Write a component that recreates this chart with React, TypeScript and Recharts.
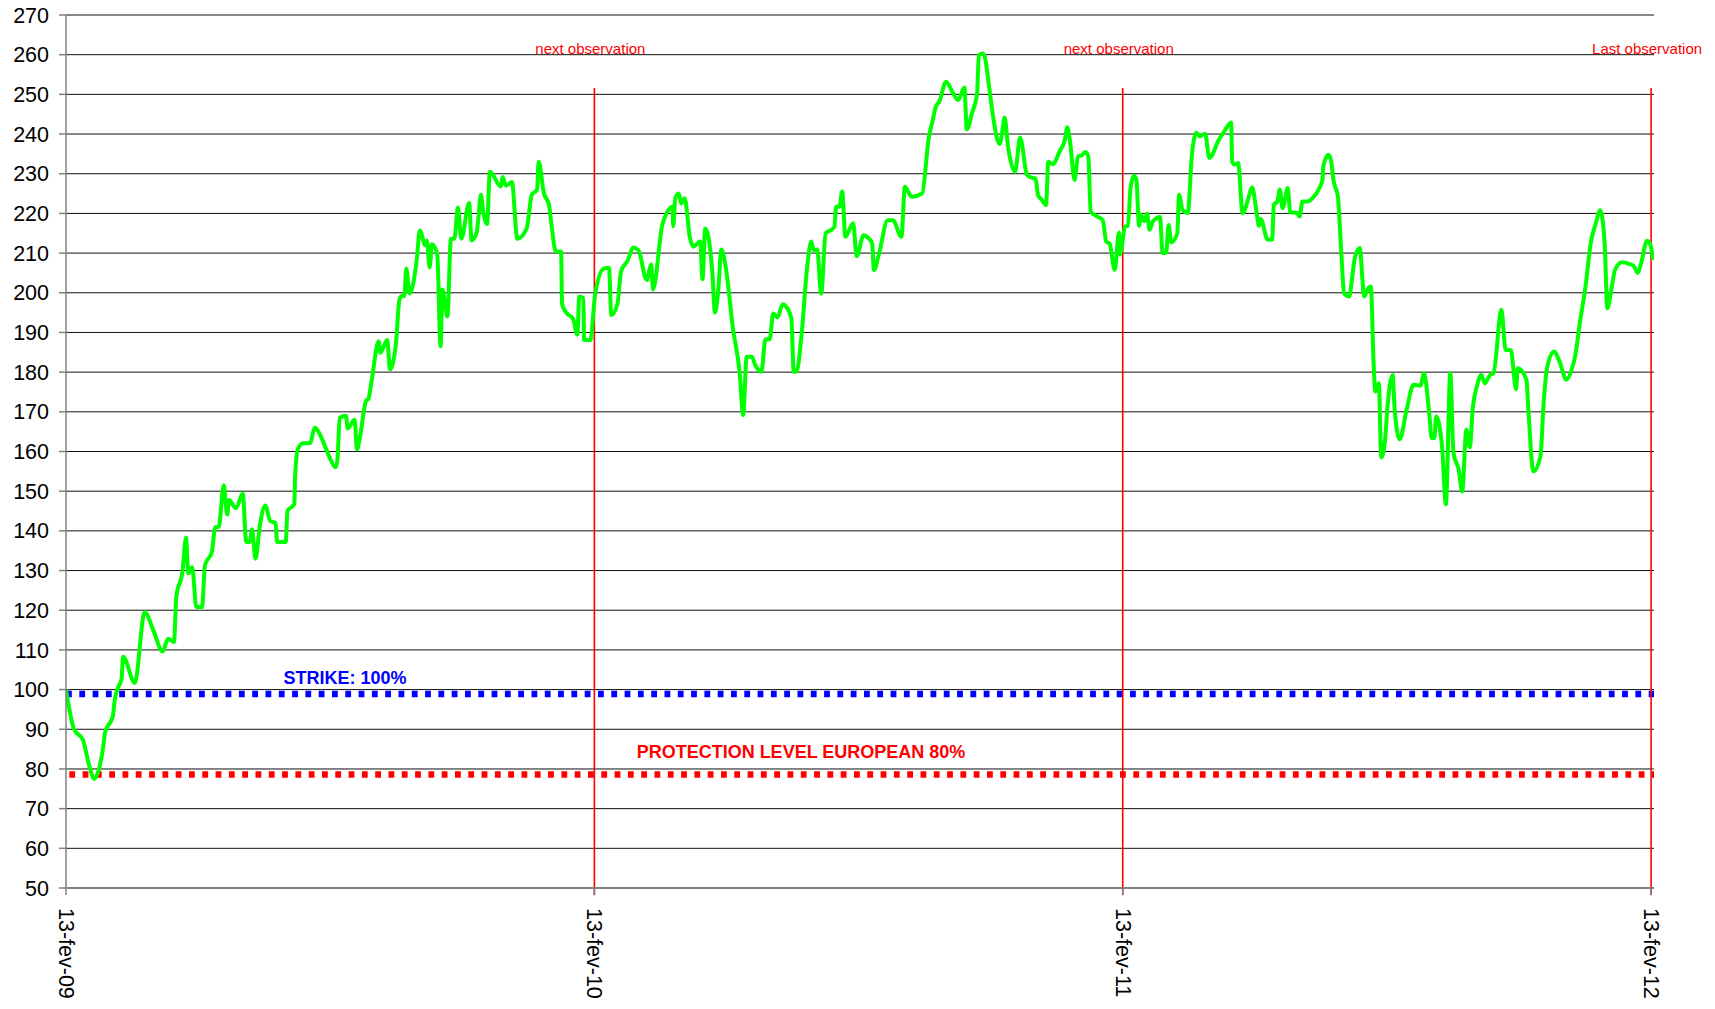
import { CartesianGrid, Line, LineChart, ReferenceLine, XAxis, YAxis } from 'recharts';

// days since 13-fev-09
const DAYS = [
  0, 5.6, 11.6, 16.3, 19.4, 22.8, 25.8, 27, 32.3, 33.7, 35.4, 38.4, 39.4, 47.5, 54.4, 60.3, 66.7, 70.5,
  74.6, 76.2, 80.5, 82.9, 84.5, 87.2, 90, 94, 96, 100.7, 103.1, 105.5, 109, 111.4, 112.6, 117.4, 122.1,
  124.5, 126.9, 128.5, 130.9, 134, 137.6, 141.1, 144.7, 145.9, 151.8, 153, 157.8, 158.2, 160.1, 163.7,
  168.5, 172, 176.8, 181.5, 186.3, 187.5, 189.1, 193.4, 194.6, 199.4, 201, 202.9, 207.2, 208.9, 211.2,
  216, 217.2, 221.9, 223.8, 227.9, 230.3, 231.9, 233.8, 235, 237.4, 242.1, 244.5, 248.1, 249.3, 251.2,
  252.8, 256.4, 258.8, 260, 263.5, 265.9, 268.3, 270.7, 273.1, 278.5, 280.2, 283.7, 284.9, 286.6, 288,
  290.9, 292.8, 300.4, 301.6, 304, 308, 311.8, 318.2, 321.8, 325.4, 326.5, 330.1, 333.7, 335.3, 338.4,
  342, 342.7, 345.6, 350.3, 353.2, 354.6, 357.4, 357.9, 362.2,
  365.6, 371.5, 375.1, 376.7, 381, 383.4, 388.1, 391.7, 395.3, 401.2, 404.3, 405.5, 411.9, 414.3, 419,
  419.5, 420.9, 423.3, 425, 427.4, 430.9, 433.3, 438.1, 439.7, 441.6, 446.4, 448.3, 450.4, 452.8, 455.9,
  460.6, 465.4, 467.8, 470.2, 473.7, 476.1, 480.4, 483.2, 486.1, 488.5, 491.5, 495.1, 497.5, 501.1,
  502.7, 504.6, 508.2, 511.8, 514.8, 516.5, 518.9, 521.7, 524.8, 528.4, 530.8, 532, 534.3, 536.2, 538.4,
  543.8, 546.2, 551, 554.5, 556.9, 558.1, 561.7, 567.6, 571.2, 577.1, 579.5, 584.3, 591.4, 596.1, 598.5,
  600.9, 603.3, 608, 612.8, 616.3, 620.6, 622.3, 625.8, 629.4, 630.6, 633.4, 634.9, 637.7, 640.6, 644.9,
  646.8, 648.4, 650.8, 655.6, 659.1, 663.9, 666.3, 669.8, 671.5, 673.9, 677, 678.6, 681.7, 686.5, 690,
  691.7, 693.6, 696.7, 699.1, 701.9, 704.3, 706.2, 707.9, 712.6, 716.2, 718.6, 720.9,
  724.5, 727.4, 728.1, 731.7, 733.6, 735.3, 737.7, 739.4, 741.3, 742.5, 744.9, 746.8, 748.5, 750.9,
  755.7, 757.6, 760, 761.7, 763.6, 767.7, 768.9, 771.3, 774.9, 777.8, 780.9, 783.3, 786.9, 789.8, 796.5,
  800.1, 804.9, 805.6, 807.3, 809.7, 812.8, 816.9, 819.3, 822.9, 824.1, 825.3, 830.1, 833.2, 834.4,
  836.8, 838.5, 840.4, 844, 845.7, 850.5, 852.2, 854.1, 857.7, 861.3, 866.1, 868, 868.5, 872.1, 873.8,
  875.7, 878.6, 881, 882.9, 886.5, 888.2, 890.1, 893.7, 896.8, 899.7, 901.4, 903.3, 904.5, 906.9, 908.6,
  911.2, 912.9, 916.5, 917.7, 921.3, 926.1, 930.9, 935.7, 938.1, 941.7, 943.4, 945.3, 946.5, 950.6,
  953.2, 956.3, 958.5, 962.1, 964.5, 967.4, 969.8, 971.7, 974.6, 977.7, 980.1, 983.7, 986.1, 991.6,
  994.5, 998.1, 1001.7, 1002.9, 1008.9, 1010.1, 1013.7, 1018.5, 1020.9, 1023.3, 1028.1, 1031.7, 1036.5,
  1040.1, 1042.5, 1046.1, 1049.7, 1053.3, 1056.9, 1059.8, 1062.9, 1064.8, 1067.7, 1070.1, 1074.9,
  1079.7, 1083.3, 1085.7, 1088.1, 1092.2, 1094.1, 1096.5,
];

const PRICES = [
  100, 90, 87.4, 80.5, 77.5, 80, 85.8, 89.2, 93.2, 97.4, 100, 102.7, 108.3, 101.7, 119.5, 115, 109.6, 112.8,
  112, 123.4, 129.8, 138.3, 129.3, 130.8, 120.8, 120.8, 131.4, 134.6, 140.9, 141, 151.5, 144.1, 147.8, 145.7, 149.4,
  137.2, 137.2, 140.4, 133, 141.5, 146.4, 142.5, 142, 137.2, 137.2, 145, 146.8, 153.1, 160.5, 162.1,
  162.1, 166, 163.2, 159, 156, 157.9, 168.5, 169, 165.8, 168, 160.5, 163.2, 172.7, 173.3, 178,
  187.8, 184.9, 188.1, 180.7, 187.1, 198.2, 199.2, 199.2, 206.1, 199.8, 207.7, 215.7, 212, 213.2, 206.4,
  212.2, 209.9, 186.5, 200.8, 194, 213.6, 213.6, 221.5, 213.6, 222.6, 213.2, 215.2, 218.9, 224.7, 221,
  217.3, 230.5, 226.8, 229.2, 227, 227.9, 213.6, 216.2, 224.7, 226, 233, 225.2, 222, 217.3, 210.4,
  210.4, 197.1, 195, 193.4, 189.5, 199, 198.7, 188.1, 188.1,
  199.8, 206.1, 206.3, 194.4, 197.3, 205.3, 208.2, 211.4, 210.8, 203.2, 207.1, 200.8, 217.1, 219.6, 221.7,
  216.8, 223.8, 225, 222.5, 223.8, 214.1, 211.6, 212.9, 203.4, 216.2, 205.7, 195, 199.8, 210.9, 206.1,
  191.4, 179.7, 169.2, 183.9, 183.9, 181.8, 180.1, 188.3, 188.3, 194.8, 193.8, 197.1, 196.5, 193.5,
  180.1, 180.1, 189.7, 205.7, 212.9, 210.8, 210.9, 199.8, 215, 215.8, 216.6, 221.7, 221.7, 225.5, 214.1,
  217.5, 209.2, 214.5, 213.7, 212.4, 205.7, 209.9, 218.3, 218.3, 214.1, 226.7, 224.2, 225, 239.3, 243.1,
  246.9, 248.2, 253.2, 250.3, 248.6, 251.7, 241.2, 245.2, 250.3, 259.9, 260.3, 259.1, 251.9, 244, 237.5,
  240.6, 244.2, 236.8, 230.5, 239.1, 229.7, 229.1, 228.8, 224.6, 223.5, 222.1, 233, 232.4, 235.7, 238.5,
  241.7, 238.1, 228.4, 234.3, 234.7, 235.5, 234.3, 220.4, 219.2, 218.3, 212.9, 212.4,
  205.8, 215.2, 209.6, 216.7, 216.9, 226, 229.5, 228.5, 216.9, 219.7, 218, 219.9, 215.9, 218,
  219.1, 210, 210, 217.1, 212.7, 215, 224.7, 220.9, 220.1, 234.8, 240.3, 239.4, 240.1, 234, 238.6,
  240.7, 242.9, 233.1, 232.3, 232.7, 220.1, 223.9, 226.6, 219.2, 216.9, 218.6, 213.4, 213.4, 222.2,
  223, 226, 221.3, 226.4, 220.3, 220.1, 219.2, 223, 223, 223.9, 226.6, 228.5, 231.8, 234.8, 233.5,
  228.1, 224.3, 210, 199.9, 199.1, 202.9, 208.3, 211.3, 199.1, 201.2, 201.6, 182.3, 175.1, 177.2, 158.5,
  162.9, 171.3, 179.3, 171.3, 163.1, 170.5, 176.8, 176.6, 179.7, 169.7, 163.4, 163.4, 168.8, 161.3,
  146.7, 179.7, 159.6, 155.4, 149.9, 165.5, 161.1, 170.5, 176.4, 179.3, 177.2, 179.3, 179.7, 195.7,
  185.6, 185.5, 175.7, 181, 178.1, 171.3, 155, 158.7, 173, 181.4, 185.2, 182.7, 178.1,
  180.6, 184, 193.2, 201.6, 212.5, 217.6, 220.8, 212.5, 196.1, 201.2, 205.8, 207.7,
  207.3, 206.6, 205, 207.5, 213.1, 212.5, 208.3,
];

const Y_TICKS = [50, 60, 70, 80, 90, 100, 110, 120, 130, 140, 150, 160, 170, 180, 190, 200, 210, 220, 230, 240, 250, 260, 270];
const TICK_DAYS = [0, 365, 730, 1095];
const TICK_LABELS = ['13-fev-09', '13-fev-10', '13-fev-11', '13-fev-12'];

const OBS_DAYS = [365, 730, 1095];
const OBS_LABELS = ['next observation', 'next observation', 'Last observation'];

const STRIKE_LEVEL = 98.9;
const PROTECTION_LEVEL = 78.6;

const data = DAYS.map((d, i) => ({ day: d, price: PRICES[i] }));

const FONT = "'Liberation Sans', Arial, sans-serif";

function DateTick({ x, y, payload }: any) {
  const i = TICK_DAYS.indexOf(payload.value);
  return (
    <text
      x={x}
      y={y}
      transform={`rotate(90 ${x} ${y})`}
      textAnchor="start"
      dominantBaseline="central"
      fontSize={21.5}
      fontFamily={FONT}
      fill="#000"
    >
      {TICK_LABELS[i]}
    </text>
  );
}

function ObsLabel({ viewBox, text }: any) {
  return (
    <text x={viewBox.x - 4} y={viewBox.y - 34} textAnchor="middle" fontSize={15} fontFamily={FONT} fill="#ff0000">
      {text}
    </text>
  );
}

function LevelLabel({ viewBox, text, dx, dy, color }: any) {
  return (
    <text
      x={viewBox.x + dx}
      y={viewBox.y + dy}
      textAnchor="middle"
      fontSize={18}
      fontWeight="bold"
      fontFamily={FONT}
      fill={color}
    >
      {text}
    </text>
  );
}

export default function App() {
  return (
    <div style={{ position: 'absolute', left: 0, top: 0, width: 1715, height: 1009, background: '#fff' }}>
      <LineChart
        width={1715}
        height={1009}
        data={data}
        margin={{ top: 15, right: 61, left: 0, bottom: 11 }}
        style={{ fontFamily: FONT }}
      >
        <CartesianGrid vertical={false} stroke="#111" strokeWidth={1} />
        <XAxis
          dataKey="day"
          type="number"
          domain={[0, 1097]}
          ticks={TICK_DAYS}
          interval={0}
          height={110}
          tickSize={7}
          tickMargin={13}
          stroke="#808080"
          strokeWidth={1.5}
          tick={<DateTick />}
          allowDataOverflow
        />
        <YAxis
          domain={[50, 270]}
          ticks={Y_TICKS}
          interval={0}
          width={66}
          tickSize={7}
          tickMargin={10}
          stroke="#808080"
          strokeWidth={1.5}
          tick={{ fill: '#000', fontSize: 21.5, fontFamily: FONT }}
        />
        <ReferenceLine
          y={STRIKE_LEVEL}
          stroke="#0000ff"
          strokeWidth={6.5}
          strokeDasharray="5.8 7.5"
          label={<LevelLabel text="STRIKE: 100%" dx={279} dy={-10} color="#0000ff" />}
        />
        <ReferenceLine
          y={PROTECTION_LEVEL}
          stroke="#ff0000"
          strokeWidth={6.5}
          strokeDasharray="5.8 7.5"
          strokeDashoffset={-3.3}
          label={<LevelLabel text="PROTECTION LEVEL EUROPEAN 80%" dx={735} dy={-17} color="#ff0000" />}
        />
        {OBS_DAYS.map((d, i) => (
          <ReferenceLine
            key={d}
            segment={[
              { x: d, y: 251.6 },
              { x: d, y: 48.2 },
            ]}
            ifOverflow="visible"
            stroke="#ff0000"
            strokeWidth={1.6}
            label={<ObsLabel text={OBS_LABELS[i]} />}
          />
        ))}
        <Line
          type="monotone"
          dataKey="price"
          stroke="#00ff00"
          strokeWidth={4}
          strokeLinejoin="round"
          dot={false}
          activeDot={false}
          isAnimationActive={false}
        />
      </LineChart>
    </div>
  );
}
